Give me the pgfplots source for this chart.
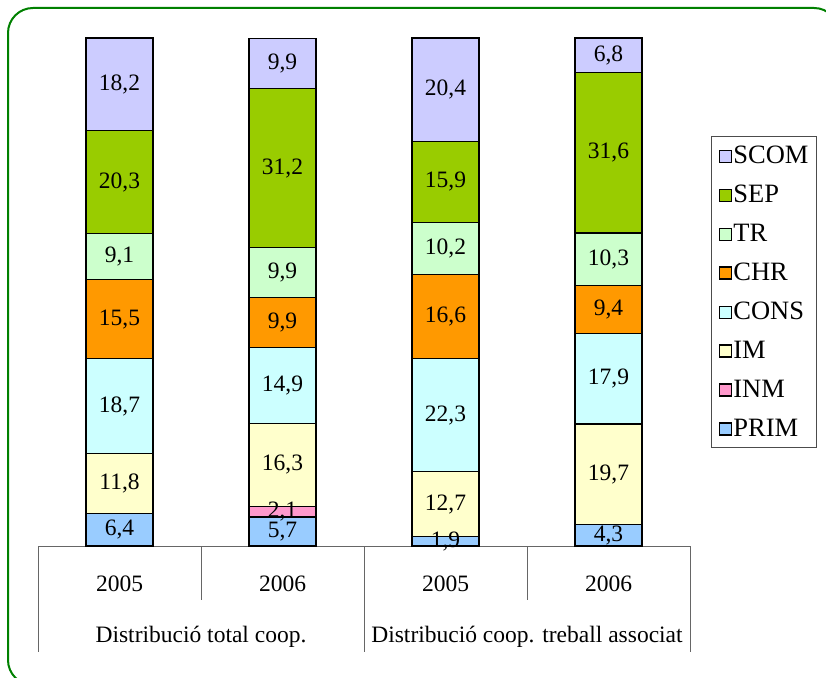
\documentclass[border=0pt]{standalone}
\usepackage{pgfplots}
\pgfplotsset{compat=1.18}
\usepackage{fontspec}
\setmainfont{Liberation Serif}
\definecolor{cSCOM}{RGB}{204,204,255}
\definecolor{cSEP}{RGB}{153,204,0}
\definecolor{cTR}{RGB}{204,255,204}
\definecolor{cCHR}{RGB}{255,153,0}
\definecolor{cCONS}{RGB}{204,255,255}
\definecolor{cIM}{RGB}{255,255,204}
\definecolor{cINM}{RGB}{255,153,204}
\definecolor{cPRIM}{RGB}{153,204,255}
\definecolor{cBorder}{RGB}{0,128,0}
\newcommand\lab{\fontsize{23.5bp}{28bp}\selectfont}
\newcommand\legfont{\fontsize{26.5bp}{30bp}\selectfont}
\pgfplotsset{
  mybar/.style={ybar, fill=#1, draw=black, line width=1.2bp, forget plot},
  myleg/.style={fill=#1, draw=black, line width=1.4bp,
    legend image code/.code={\draw[##1] (0bp,-6.5bp) rectangle (12bp,5.5bp);}},
}
\begin{document}
\begin{tikzpicture}
\useasboundingbox (0,0) rectangle (826bp,678bp);
\begin{scope}
\clip (0,0) rectangle (826bp,678bp);
\draw[line width=2bp, draw=cBorder, rounded corners=25bp] (8bp,-7bp) rectangle (839bp,670bp);
\end{scope}
\begin{axis}[
  at={(38bp,132bp)}, anchor=south west,
  scale only axis, width=652bp, height=508bp,
  xmin=0, xmax=4, ymin=0, ymax=100,
  stack plots=y, bar width=67bp, bar shift=0pt,
  axis line style={draw=none},
  ytick=\empty, xtick={0.5,1.5,2.5,3.5}, xticklabels={2005,2006,2005,2006},
  major tick length=0pt,
  xticklabel style={font=\lab, anchor=base, yshift=-45bp},
  clip=false,
  reverse legend,
  legend style={at={(1,0.5)}, anchor=west, xshift=21bp, draw=black!70, line width=1bp,
    font=\legfont, inner xsep=7bp, inner ysep=9bp, row sep=18bp, column sep=0.5bp,
    legend cell align=left, nodes={inner sep=1bp}},
]
\addplot[mybar=cPRIM] coordinates {(0.5,6.4) (1.5,5.7) (2.5,1.9) (3.5,4.3)};
\addplot[mybar=cINM] coordinates {(0.5,0) (1.5,2.1) (2.5,0) (3.5,0)};
\addplot[mybar=cIM] coordinates {(0.5,11.8) (1.5,16.3) (2.5,12.7) (3.5,19.7)};
\addplot[mybar=cCONS] coordinates {(0.5,18.7) (1.5,14.9) (2.5,22.3) (3.5,17.9)};
\addplot[mybar=cCHR] coordinates {(0.5,15.5) (1.5,9.9) (2.5,16.6) (3.5,9.4)};
\addplot[mybar=cTR] coordinates {(0.5,9.1) (1.5,9.9) (2.5,10.2) (3.5,10.3)};
\addplot[mybar=cSEP] coordinates {(0.5,20.3) (1.5,31.2) (2.5,15.9) (3.5,31.6)};
\addplot[mybar=cSCOM] coordinates {(0.5,18.2) (1.5,9.9) (2.5,20.4) (3.5,6.8)};
\addlegendimage{myleg=cPRIM}\addlegendentry{PRIM}
\addlegendimage{myleg=cINM}\addlegendentry{INM}
\addlegendimage{myleg=cIM}\addlegendentry{IM}
\addlegendimage{myleg=cCONS}\addlegendentry{CONS}
\addlegendimage{myleg=cCHR}\addlegendentry{CHR}
\addlegendimage{myleg=cTR}\addlegendentry{TR}
\addlegendimage{myleg=cSEP}\addlegendentry{SEP}
\addlegendimage{myleg=cSCOM}\addlegendentry{SCOM}
\addplot[stack plots=false, draw=none, mark=none, forget plot,
  nodes near coords, point meta=explicit symbolic, nodes near coords align={center},
  every node near coord/.append style={font=\lab, inner sep=0pt, anchor=center}]
  table[meta=lab] {
x y lab
0.5 3.2 6,4
0.5 12.3 11,8
0.5 27.55 18,7
0.5 44.65 15,5
0.5 56.95 9,1
0.5 71.65 20,3
0.5 90.9 18,2
1.5 2.85 5,7
1.5 6.75 2,1
1.5 15.95 16,3
1.5 31.55 14,9
1.5 43.95 9,9
1.5 53.85 9,9
1.5 74.4 31,2
1.5 94.95 9,9
2.5 0.95 1,9
2.5 8.25 12,7
2.5 25.75 22,3
2.5 45.2 16,6
2.5 58.6 10,2
2.5 71.65 15,9
2.5 89.8 20,4
3.5 2.15 4,3
3.5 14.15 19,7
3.5 32.95 17,9
3.5 46.6 9,4
3.5 56.45 10,3
3.5 77.4 31,6
3.5 96.6 6,8
};
\draw[black!60, line width=1bp] (axis cs:0,0) -- (axis cs:4,0);
\draw[black!60, line width=1bp] (axis cs:0,0) -- ([yshift=-106bp]axis cs:0,0);
\draw[black!60, line width=1bp] (axis cs:1,0) -- ([yshift=-54bp]axis cs:1,0);
\draw[black!60, line width=1bp] (axis cs:2,0) -- ([yshift=-106bp]axis cs:2,0);
\draw[black!60, line width=1bp] (axis cs:3,0) -- ([yshift=-54bp]axis cs:3,0);
\draw[black!60, line width=1bp] (axis cs:4,0) -- ([yshift=-106bp]axis cs:4,0);
\node[font=\lab, anchor=base] at ([yshift=-96bp]axis cs:1,0) {Distribució total coop.};
\node[font=\lab, anchor=base] at ([yshift=-96bp]axis cs:3,0) {Distribució coop. treball associat};
\end{axis}
\end{tikzpicture}
\end{document}
